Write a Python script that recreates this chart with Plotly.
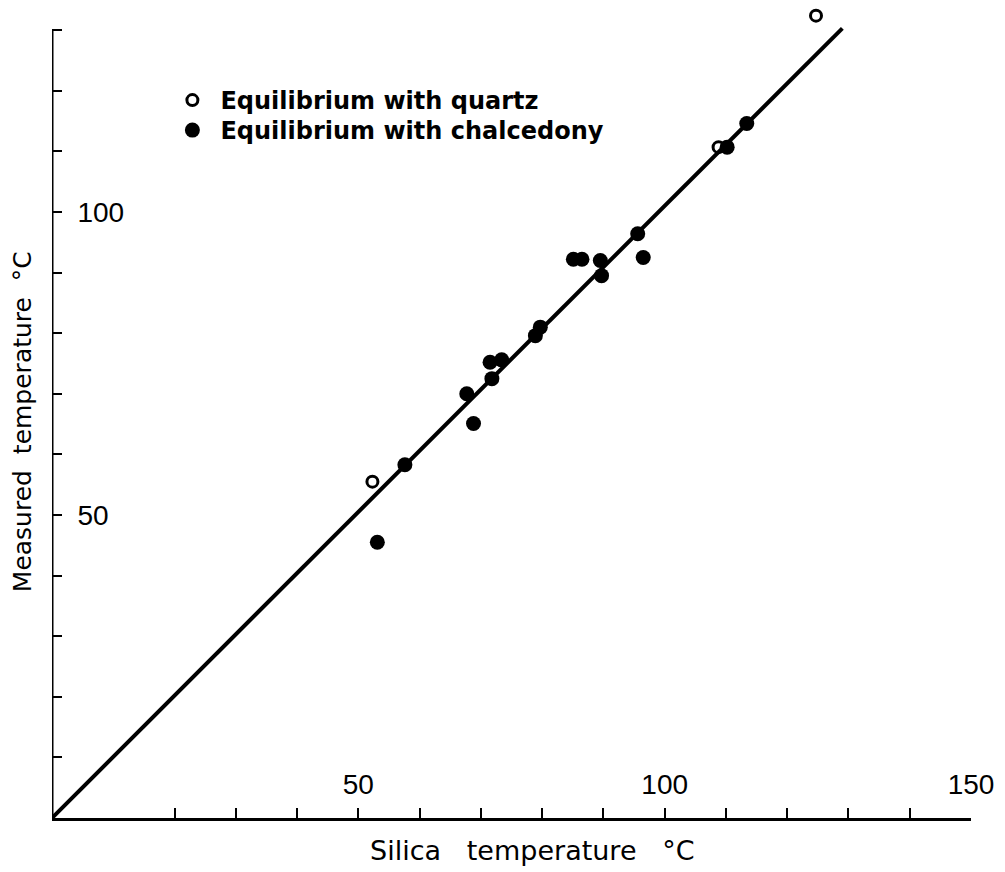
import plotly.graph_objects as go

# Data
quartz_x = [52.3, 108.8, 124.7]
quartz_y = [55.5, 110.7, 132.4]

chalcedony_x = [53.1, 57.6, 67.7, 68.8, 71.5, 73.4, 71.8, 78.9, 79.7,
                85.1, 86.5, 89.5, 89.7, 95.6, 96.5, 110.2, 113.4]
chalcedony_y = [45.5, 58.3, 70.0, 65.1, 75.2, 75.6, 72.5, 79.6, 81.0,
                92.2, 92.2, 92.0, 89.5, 96.4, 92.5, 110.7, 114.6]

fit_x = [0, 129]
fit_y = [0, 130.3]

x_ticks = list(range(0, 151, 10))
x_label_vals = [50, 100, 150]
y_ticks = list(range(0, 131, 10))
y_ticktext = ["50" if v == 50 else "100" if v == 100 else "" for v in y_ticks]

X_RANGE = [0, 150]
Y_RANGE = [0, 133.5]

FONT = "Liberation Sans"
TFONT = "DejaVu Sans"

fig = go.Figure()
fig.add_trace(go.Scatter(x=fit_x, y=fit_y, mode="lines",
                         line=dict(color="black", width=4),
                         showlegend=False, hoverinfo="skip"))
fig.add_trace(go.Scatter(x=quartz_x, y=quartz_y, mode="markers",
                         name="Equilibrium with quartz", legend="legend",
                         marker=dict(symbol="circle-open", size=11, color="black",
                                     line=dict(width=3, color="black")),
                         cliponaxis=False))
fig.add_trace(go.Scatter(x=chalcedony_x, y=chalcedony_y, mode="markers",
                         name="Equilibrium with chalcedony", legend="legend2",
                         marker=dict(symbol="circle", size=15, color="black"),
                         cliponaxis=False))
# invisible helper trace so the label-only x axis is drawn
fig.add_trace(go.Scatter(x=fit_x, y=fit_y, xaxis="x2", yaxis="y", mode="lines",
                         line=dict(width=0, color="rgba(0,0,0,0)"),
                         showlegend=False, hoverinfo="skip"))

# y axis line only up to the last tick (the top quartz point lies above it)
fig.add_shape(type="line", xref="x", yref="y", x0=0, x1=0, y0=0, y1=max(y_ticks),
              line=dict(color="black", width=3))

legend_common = dict(xanchor="left", yanchor="top",
                     font=dict(size=24, family=TFONT, weight="bold", color="black"),
                     bgcolor="rgba(0,0,0,0)", itemwidth=46)

fig.update_layout(
    width=997, height=864,
    margin=dict(l=44, r=34, t=1, b=54),
    paper_bgcolor="white", plot_bgcolor="white",
    font=dict(family=FONT, color="black"),
    showlegend=True,
    legend=dict(x=0.1223, y=0.9147, **legend_common),
    legend2=dict(x=0.1223, y=0.8776, **legend_common),
    xaxis=dict(range=X_RANGE, showgrid=False, zeroline=False, automargin=False,
               showline=True, linecolor="black", linewidth=3,
               ticks="inside", ticklen=10, tickwidth=2, tickcolor="black",
               tickvals=x_ticks, showticklabels=False),
    xaxis2=dict(range=X_RANGE, overlaying="x", anchor="free", position=0.0657,
                side="bottom", showgrid=False, zeroline=False, showline=False,
                ticks="", automargin=False,
                tickvals=x_label_vals, ticktext=[str(v) for v in x_label_vals],
                tickfont=dict(size=28, family=FONT, color="black")),
    yaxis=dict(range=Y_RANGE, showgrid=False, zeroline=False, automargin=False,
               showline=False,
               ticks="inside", ticklen=10, tickwidth=2, tickcolor="black",
               tickvals=y_ticks, ticktext=y_ticktext,
               ticklabelposition="inside", ticklabelstandoff=18,
               tickfont=dict(size=28, family=FONT, color="black")),
    annotations=[
        dict(text="Silica   temperature   °C", xref="paper", yref="paper",
             x=0.523, y=-0.04, xanchor="center", yanchor="middle", showarrow=False,
             font=dict(size=27, family=TFONT, color="black")),
        dict(text="Measured  temperature  °C", xref="paper", yref="paper",
             x=-0.032, y=0.49, xanchor="center", yanchor="middle", showarrow=False,
             textangle=-90, font=dict(size=25, family=TFONT, color="black")),
    ],
)

fig.write_html("out.html")
